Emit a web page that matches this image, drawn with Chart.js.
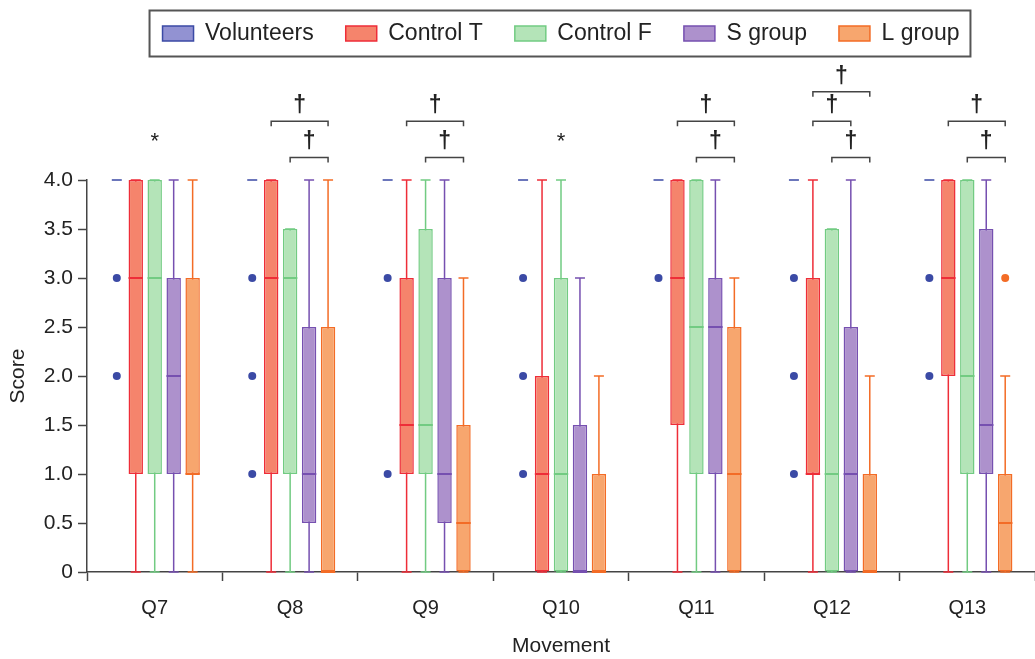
<!DOCTYPE html>
<html>
<head>
<meta charset="utf-8">
<script src="https://cdn.jsdelivr.net/npm/chart.js@4.4.1/dist/chart.umd.min.js"></script>
<style>
    html, body { margin: 0; padding: 0; background: #fff; }
    #wrap { width: 1035px; height: 659px; }
</style>
</head>
<body>
<div id="wrap"><canvas id="boxChart"></canvas></div>
<script>
var questions = ['Q7', 'Q8', 'Q9', 'Q10', 'Q11', 'Q12', 'Q13'];
var groups = ['Volunteers', 'Control T', 'Control F', 'S group', 'L group'];

// [min, q1, median, q3, max] for each question
var volunteers = [[4, 4, 4, 4, 4], [4, 4, 4, 4, 4], [4, 4, 4, 4, 4], [4, 4, 4, 4, 4], [4, 4, 4, 4, 4], [4, 4, 4, 4, 4], [4, 4, 4, 4, 4]];
var controlT = [[0, 1, 3, 4, 4], [0, 1, 3, 4, 4], [0, 1, 1.5, 3, 4], [0, 0, 1, 2, 4], [0, 1.5, 3, 4, 4], [0, 1, 1, 3, 4], [0, 2, 3, 4, 4]];
var controlF = [[0, 1, 3, 4, 4], [0, 1, 3, 3.5, 3.5], [0, 1, 1.5, 3.5, 4], [0, 0, 1, 3, 4], [0, 1, 2.5, 4, 4], [0, 0, 1, 3.5, 3.5], [0, 1, 2, 4, 4]];
var sGroup = [[0, 1, 2, 3, 4], [0, 0.5, 1, 2.5, 4], [0, 0.5, 1, 3, 4], [0, 0, 0, 1.5, 3], [0, 1, 2.5, 3, 4], [0, 0, 1, 2.5, 4], [0, 1, 1.5, 3.5, 4]];
var lGroup = [[0, 1, 1, 3, 4], [0, 0, 0, 2.5, 4], [0, 0, 0.5, 1.5, 3], [0, 0, 0, 1, 2], [0, 0, 1, 2.5, 3], [0, 0, 0, 1, 2], [0, 0, 0.5, 1, 2]];

// outliers
var volunteersOut = [[3, 2], [3, 2, 1], [3, 1], [3, 2, 1], [3], [3, 2, 1], [3, 2]];
var lGroupOut = [[], [], [], [], [], [], [3]];
var noOut = [[], [], [], [], [], [], []];

// significance marks: * per question, daggers as [question, group from, group to, tier]
var stars = ['*', '', '', '*', '', '', ''];
var daggers = [
    [1, 1, 4, 2], [1, 2, 4, 1],
    [2, 1, 4, 2], [2, 2, 4, 1],
    [4, 1, 4, 2], [4, 2, 4, 1],
    [5, 1, 4, 3], [5, 1, 3, 2], [5, 2, 4, 1],
    [6, 1, 4, 2], [6, 2, 4, 1]
];

var FONT = "'Liberation Sans', Arial, sans-serif";
var INK = '#222';
var AXIS = '#444';

function makeSet(label, stats, out, fill, line) {
    return {
        label: label,
        data: stats.map(function (s) { return [s[1], s[3]]; }),
        stats: stats,
        outliers: out,
        backgroundColor: fill,
        borderColor: line,
        borderWidth: 1.5,
        borderSkipped: false
    };
}

var boxPlot = {
    id: 'boxPlot',
    beforeDatasetsDraw: function (chart) {
        var ctx = chart.ctx, y = chart.scales.y;
        chart.data.datasets.forEach(function (ds, i) {
            chart.getDatasetMeta(i).data.forEach(function (bar, j) {
                var s = ds.stats[j];
                var hw = 5;
                var yMin = y.getPixelForValue(s[0]), yMax = y.getPixelForValue(s[4]);
                ctx.save();
                ctx.strokeStyle = ds.borderColor;
                ctx.lineWidth = 1.5;
                ctx.beginPath();
                ctx.moveTo(bar.x, yMin);
                ctx.lineTo(bar.x, yMax);
                ctx.moveTo(bar.x - hw, yMax);
                ctx.lineTo(bar.x + hw, yMax);
                ctx.moveTo(bar.x - hw, yMin);
                ctx.lineTo(bar.x + hw, yMin);
                ctx.stroke();
                ctx.restore();
            });
        });
    },
    afterDatasetsDraw: function (chart) {
        var ctx = chart.ctx, y = chart.scales.y;
        chart.data.datasets.forEach(function (ds, i) {
            chart.getDatasetMeta(i).data.forEach(function (bar, j) {
                var s = ds.stats[j];
                ctx.save();
                if (s[3] > s[1]) {
                    var ym = y.getPixelForValue(s[2]);
                    ctx.strokeStyle = ds.borderColor;
                    ctx.lineWidth = 2;
                    ctx.beginPath();
                    ctx.moveTo(bar.x - bar.width / 2, ym);
                    ctx.lineTo(bar.x + bar.width / 2, ym);
                    ctx.stroke();
                }
                ctx.fillStyle = ds.borderColor;
                ds.outliers[j].forEach(function (v) {
                    ctx.beginPath();
                    ctx.arc(bar.x, y.getPixelForValue(v), 4, 0, Math.PI * 2);
                    ctx.fill();
                });
                ctx.restore();
            });
        });
    },
    afterDraw: function (chart) {
        var ctx = chart.ctx, x = chart.scales.x, y = chart.scales.y;
        var tiers = [0, 4.23, 4.6, 4.9];

        // legend frame
        var hb = chart.legend.legendHitBoxes;
        if (hb && hb.length) {
            var l = hb[0].left, r = hb[hb.length - 1].left + hb[hb.length - 1].width;
            var t = hb[0].top, h = hb[0].height;
            ctx.save();
            ctx.strokeStyle = '#555';
            ctx.lineWidth = 2;
            ctx.strokeRect(l - 13, t + h / 2 - 23, r - l + 24, 46);
            ctx.restore();
        }

        ctx.save();
        ctx.fillStyle = INK;
        ctx.strokeStyle = AXIS;
        ctx.lineWidth = 1.5;
        ctx.textAlign = 'center';
        ctx.textBaseline = 'alphabetic';
        ctx.font = '22px ' + FONT;
        stars.forEach(function (st, q) {
            if (st) ctx.fillText(st, x.getPixelForValue(q), y.getPixelForValue(4.46) + 13);
        });
        ctx.font = 'bold 23px ' + FONT;
        daggers.forEach(function (d) {
            var x1 = chart.getDatasetMeta(d[1]).data[d[0]].x;
            var x2 = chart.getDatasetMeta(d[2]).data[d[0]].x;
            var yb = y.getPixelForValue(tiers[d[3]]);
            ctx.beginPath();
            ctx.moveTo(x1, yb + 5);
            ctx.lineTo(x1, yb);
            ctx.lineTo(x2, yb);
            ctx.lineTo(x2, yb + 5);
            ctx.stroke();
            ctx.fillText('\u2020', (x1 + x2) / 2, yb - 9);
        });
        ctx.restore();
    }
};

new Chart(document.getElementById('boxChart'), {
    type: 'bar',
    data: {
        labels: questions,
        datasets: [
            makeSet(groups[0], volunteers, volunteersOut, '#9292d2', '#3b4aa5'),
            makeSet(groups[1], controlT, noOut, '#f5846c', '#ee2d38'),
            makeSet(groups[2], controlF, noOut, '#b4e4b8', '#72cb82'),
            makeSet(groups[3], sGroup, noOut, '#ad91cc', '#7650b0'),
            makeSet(groups[4], lGroup, lGroupOut, '#f7a66e', '#f36c26')
        ]
    },
    options: {
        responsive: true,
        maintainAspectRatio: false,
        animation: false,
        categoryPercentage: 0.70,
        barPercentage: 0.76,
        layout: { padding: { top: -10, left: 0, right: 0, bottom: 0 } },
        plugins: {
            tooltip: { enabled: false },
            legend: {
                position: 'top',
                fullSize: false,
                labels: {
                    boxWidth: 31,
                    boxHeight: 15,
                    padding: 32,
                    color: INK,
                    font: { family: FONT, size: 23 }
                }
            },
            title: {
                display: true,
                text: '',
                weight: 500,
                font: { size: 10 },
                padding: { top: 0, bottom: 113 }
            }
        },
        scales: {
            x: {
                grid: { drawOnChartArea: false, tickLength: 9, tickColor: AXIS, tickWidth: 1.5 },
                border: { color: AXIS, width: 1.5 },
                ticks: { color: INK, padding: 15, font: { family: FONT, size: 20 } },
                title: { display: true, text: 'Movement', color: INK, padding: { top: 0, bottom: 0 }, font: { family: FONT, size: 21 } },
                afterFit: function (scale) { scale.height = 87; }
            },
            y: {
                min: 0,
                max: 4,
                grid: { drawOnChartArea: false, tickLength: 9, tickColor: AXIS, tickWidth: 1.5 },
                border: { color: AXIS, width: 1.5 },
                ticks: {
                    stepSize: 0.5,
                    padding: 5,
                    color: INK,
                    font: { family: FONT, size: 21 },
                    callback: function (v) { return v === 0 ? '0' : v.toFixed(1); }
                },
                title: { display: true, text: 'Score', color: INK, padding: { top: 6, bottom: 0 }, font: { family: FONT, size: 21 } },
                afterFit: function (scale) { scale.width = 87; }
            }
        }
    },
    plugins: [boxPlot]
});
</script>
</body>
</html>
